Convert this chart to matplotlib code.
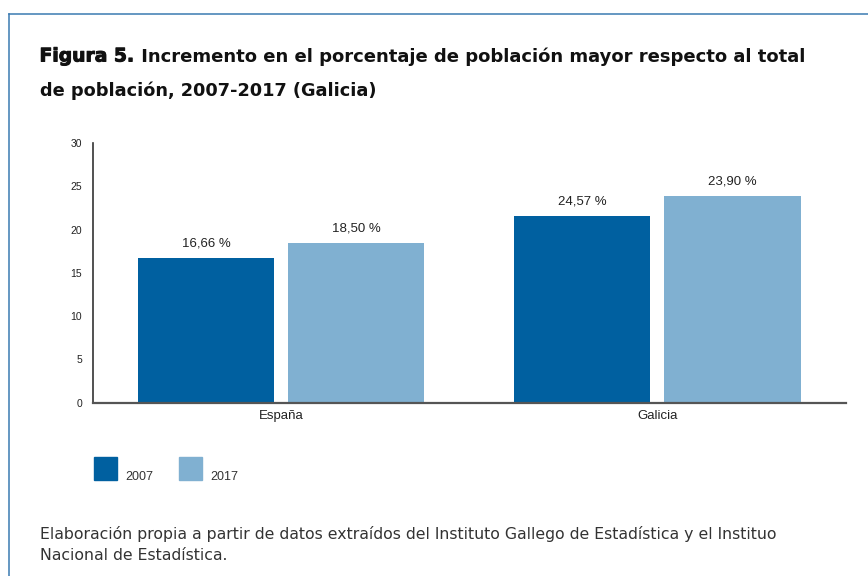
import matplotlib.pyplot as plt
import matplotlib.patheffects as pe
from matplotlib.lines import Line2D
from matplotlib.patches import Rectangle
import numpy as np

# data
categories = ["España", "Galicia"]
years = ["2007", "2017"]
heights_2007 = [16.7, 21.55]
heights_2017 = [18.45, 23.88]
labels_2007 = ["16,66 %", "24,57 %"]
labels_2017 = ["18,50 %", "23,90 %"]
colors = ["#0060a0", "#80b0d1"]
yticks = [0, 5, 10, 15, 20, 25, 30]

W, H = 868, 576
plt.rcParams["font.family"] = ["Liberation Sans", "DejaVu Sans"]
WIDE = ["DejaVu Sans"]

fig = plt.figure(figsize=(W / 100, H / 100), dpi=100)


def fx(px):
    return px / W


def fy(py):
    return 1 - py / H


ax = fig.add_axes([fx(93), fy(402.7), fx(845.5) - fx(93), fy(143) - fy(402.7)])

x = np.arange(len(categories))
bw = 0.362
off = 0.1995
b1 = ax.bar(x - off, heights_2007, bw, color=colors[0])
b2 = ax.bar(x + off, heights_2017, bw, color=colors[1])

for bars, labs in [(b1, labels_2007), (b2, labels_2017)]:
    for r, t in zip(bars, labs):
        ax.annotate(t, (r.get_x() + r.get_width() / 2, r.get_height()),
                    xytext=(0, 8.4), textcoords="offset points",
                    ha="center", va="baseline", fontsize=9.5, color="#222222")

ax.set_xlim(-0.5, 1.5)
ax.set_ylim(0, 30)
ax.set_xticks(x)
ax.set_xticklabels(categories, fontsize=9.5, color="#222222")
ax.set_yticks(yticks)
ax.set_yticklabels([str(v) for v in yticks], fontsize=7.5, color="#222222")
ax.tick_params(axis="y", length=0, pad=8)
ax.tick_params(axis="x", length=0, pad=5)
for s in ["top", "right"]:
    ax.spines[s].set_visible(False)
ax.spines["left"].set_color("#333333")
ax.spines["left"].set_linewidth(1.2)
ax.spines["bottom"].set_color("#555555")
ax.spines["bottom"].set_linewidth(1.6)

# title
t1 = fig.text(fx(39.5), fy(61.5), "Figura 5.", fontsize=13.5, fontweight="bold",
              color="#111111", va="baseline", family=WIDE,
              path_effects=[pe.withStroke(linewidth=0.7, foreground="#111111")])
fig.canvas.draw()
bb = t1.get_window_extent()
fig.text(fx(bb.x1 + 1), fy(61.5), " Incremento en el porcentaje de población mayor respecto al total",
         fontsize=13, fontweight="bold", color="#111111", va="baseline", family=WIDE)
fig.text(fx(39.5), fy(95.5), "de población, 2007-2017 (Galicia)",
         fontsize=12.8, fontweight="bold", color="#111111", va="baseline", family=WIDE)

# legend
for i, (yr, c) in enumerate(zip(years, colors)):
    x0 = 94 + i * 85
    fig.add_artist(Rectangle((fx(x0), fy(480)), fx(23), 23 / H, color=c,
                             transform=fig.transFigure))
    fig.text(fx(x0 + 31.5), fy(480), yr, fontsize=9, color="#333333", va="baseline")

# source
fig.text(fx(39.5), fy(539), "Elaboración propia a partir de datos extraídos del Instituto Gallego de Estadística y el Instituo",
         fontsize=11.3, color="#333333", va="baseline", family=WIDE)
fig.text(fx(39.5), fy(560.5), "Nacional de Estadística.", fontsize=11.3, color="#333333",
         va="baseline", family=WIDE)

# frame lines
fig.add_artist(Line2D([fx(9.3), 1], [fy(14), fy(14)], color="#3b7ab2", lw=1.1))
fig.add_artist(Line2D([fx(9.3), fx(9.3)], [fy(14), 0], color="#3b7ab2", lw=1.1))

fig.savefig("out.png", dpi=100)
